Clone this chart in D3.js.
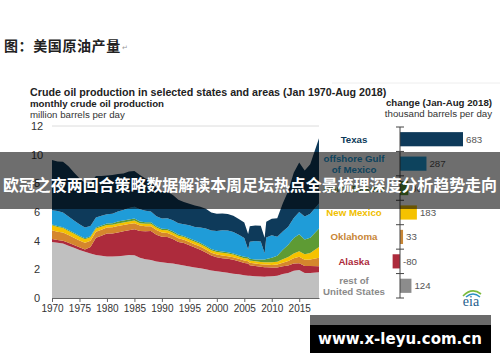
<!DOCTYPE html>
<html>
  <head>
    <meta charset="utf-8">
    <title>美国原油产量</title>
    <script src="https://d3js.org/d3.v7.min.js"></script>
    <style>
      body { margin: 0; background: #fff; }
      svg { display: block; font-family: "Liberation Sans", Arial, sans-serif; }
      .axis text { font-size: 10px; fill: #333; }
      .axis path, .axis line { stroke: #666; }
    </style>
  </head>
  <body>
    <script>
      var width = 500;
      var height = 362;

      // monthly production, million barrels per day
      var dates = [1970, 1971, 1972, 1973, 1974, 1975, 1976, 1977, 1978, 1979,
        1980, 1981, 1982, 1983, 1984, 1985, 1986, 1987, 1988, 1989,
        1990, 1991, 1992, 1993, 1994, 1995, 1996, 1997, 1998, 1999,
        2000, 2001, 2002, 2003, 2004, 2005, 2005.7, 2006, 2007, 2008, 2008.7,
        2009, 2010, 2011, 2012, 2013, 2014, 2015, 2016, 2017, 2018.6];
      var restOfUS = [3.90, 3.85, 3.80, 3.65, 3.50, 3.35, 3.22, 3.10, 3.00, 2.95,
        2.90, 2.90, 2.92, 2.95, 3.00, 2.98, 2.80, 2.70, 2.65, 2.55,
        2.50, 2.45, 2.40, 2.33, 2.27, 2.20, 2.13, 2.07, 2.00, 1.92,
        1.87, 1.82, 1.76, 1.70, 1.65, 1.58, 1.56, 1.55, 1.52, 1.50, 1.49,
        1.50, 1.52, 1.56, 1.68, 1.75, 1.90, 1.95, 1.75, 1.75, 1.80];
      var alaska = [0.22, 0.20, 0.20, 0.20, 0.19, 0.19, 0.17, 0.45, 1.20, 1.40,
        1.60, 1.60, 1.65, 1.70, 1.72, 1.82, 1.87, 1.96, 2.02, 1.87,
        1.77, 1.80, 1.71, 1.58, 1.56, 1.48, 1.39, 1.30, 1.17, 1.05,
        0.97, 0.96, 0.98, 0.97, 0.91, 0.86, 0.84, 0.74, 0.72, 0.68, 0.66,
        0.65, 0.60, 0.56, 0.53, 0.51, 0.50, 0.48, 0.49, 0.49, 0.42];
      var oklahoma = [0.60, 0.58, 0.57, 0.55, 0.52, 0.48, 0.46, 0.45, 0.43, 0.41,
        0.41, 0.43, 0.45, 0.44, 0.44, 0.42, 0.38, 0.35, 0.34, 0.32,
        0.30, 0.29, 0.27, 0.25, 0.24, 0.23, 0.22, 0.22, 0.21, 0.19,
        0.19, 0.19, 0.18, 0.18, 0.17, 0.17, 0.17, 0.17, 0.17, 0.18, 0.18,
        0.18, 0.19, 0.21, 0.25, 0.32, 0.37, 0.44, 0.42, 0.45, 0.58];
      var newMexico = [0.35, 0.33, 0.31, 0.28, 0.27, 0.26, 0.25, 0.24, 0.22, 0.21,
        0.19, 0.18, 0.18, 0.18, 0.18, 0.18, 0.17, 0.17, 0.17, 0.17,
        0.18, 0.18, 0.18, 0.18, 0.18, 0.18, 0.18, 0.18, 0.18, 0.17,
        0.18, 0.18, 0.18, 0.18, 0.17, 0.17, 0.17, 0.16, 0.16, 0.16, 0.16,
        0.17, 0.18, 0.20, 0.24, 0.28, 0.34, 0.40, 0.40, 0.45, 0.75];
      var northDakota = [0.06, 0.06, 0.06, 0.06, 0.07, 0.07, 0.07, 0.07, 0.07, 0.08,
        0.09, 0.11, 0.13, 0.13, 0.14, 0.14, 0.12, 0.11, 0.10, 0.10,
        0.09, 0.09, 0.09, 0.09, 0.08, 0.08, 0.09, 0.09, 0.09, 0.08,
        0.09, 0.09, 0.09, 0.08, 0.09, 0.10, 0.10, 0.11, 0.12, 0.17, 0.19,
        0.22, 0.31, 0.42, 0.66, 0.86, 1.08, 1.18, 1.03, 1.06, 1.30];
      var gulfOfMexico = [1.00, 1.05, 1.02, 0.95, 0.85, 0.80, 0.75, 0.72, 0.70, 0.68,
        0.66, 0.66, 0.70, 0.74, 0.80, 0.82, 0.85, 0.80, 0.76, 0.70,
        0.70, 0.76, 0.78, 0.78, 0.82, 0.90, 0.95, 1.05, 1.20, 1.30,
        1.38, 1.48, 1.52, 1.50, 1.42, 1.30, 0.55, 1.20, 1.28, 1.25, 0.45,
        1.50, 1.58, 1.32, 1.28, 1.25, 1.40, 1.55, 1.60, 1.68, 1.75];
      var texas = [3.50, 3.45, 3.55, 3.50, 3.35, 3.20, 3.10, 3.00, 2.90, 2.78,
        2.70, 2.70, 2.62, 2.55, 2.55, 2.50, 2.40, 2.25, 2.10, 1.95,
        1.85, 1.85, 1.75, 1.65, 1.55, 1.50, 1.50, 1.45, 1.38, 1.25,
        1.20, 1.17, 1.15, 1.13, 1.10, 1.08, 1.07, 1.08, 1.08, 1.10, 1.08,
        1.10, 1.15, 1.30, 1.95, 2.50, 3.15, 3.45, 3.20, 3.45, 4.55];

      var yTicks = [0, 2, 4, 6, 8, 10, 12];
      var xTicks = [1970, 1975, 1980, 1985, 1990, 1995, 2000, 2005, 2010, 2015];

      // change Jan-Aug 2018, thousand barrels per day
      var changeLabels = [["Texas"], ["offshore Gulf", "of Mexico"], ["North Dakota"],
        ["New Mexico"], ["Oklahoma"], ["Alaska"], ["rest of", "United States"]];
      var changeValues = [683, 287, 90, 183, 33, -80, 124];

      var keys = ["rest", "alaska", "oklahoma", "newMexico", "northDakota", "gulf", "texas"];
      var colors = {rest: "#c0c0c0", alaska: "#ad2b3c", oklahoma: "#d5862d", newMexico: "#f5c200",
        northDakota: "#5e9b34", gulf: "#1f9cd8", texas: "#0e3a5a"};
      var textColors = ["#0e3a5a", "#1f9cd8", "#5e9b34", "#f0c000", "#c88636", "#ad2b3c", "#8a8a8a"];
      var barColors = ["#0e3a5a", "#1f9cd8", "#5e9b34", "#f5c200", "#c88636", "#ad2b3c", "#8c8c8c"];

      var table = dates.map(function(d, i) {
        return {date: d, rest: restOfUS[i], alaska: alaska[i], oklahoma: oklahoma[i],
          newMexico: newMexico[i], northDakota: northDakota[i], gulf: gulfOfMexico[i], texas: texas[i]};
      });

      var svg = d3.select("body")
        .append("svg")
        .attr("width", width)
        .attr("height", height);

      // heading
      svg.append("text")
        .attr("x", 4).attr("y", 51)
        .style("font-family", "'Noto Sans CJK SC'")
        .style("font-size", "14px")
        .style("font-weight", "bold")
        .style("letter-spacing", "0.6px")
        .attr("fill", "#222")
        .text("图：美国原油产量");
      svg.append("text")
        .attr("x", 122).attr("y", 50)
        .style("font-size", "7px")
        .attr("fill", "#999")
        .text("↵");

      svg.append("text")
        .attr("x", 30).attr("y", 96)
        .style("font-size", "10.7px").style("font-weight", "bold")
        .attr("fill", "#222")
        .text("Crude oil production in selected states and areas (Jan 1970-Aug 2018)");
      svg.append("text")
        .attr("x", 30).attr("y", 107)
        .style("font-size", "9.7px").style("font-weight", "bold")
        .attr("fill", "#222")
        .text("monthly crude oil production");
      svg.append("text")
        .attr("x", 30).attr("y", 118)
        .style("font-size", "9.7px")
        .attr("fill", "#333")
        .text("million barrels per day");

      // left chart
      var xScale = d3.scaleLinear()
        .domain([1970, 2018.6])
        .range([52, 319]);
      var yScale = d3.scaleLinear()
        .domain([0, 12])
        .range([298, 126]);

      svg.append("line")
        .attr("x1", 52).attr("x2", 319)
        .attr("y1", yScale(12)).attr("y2", yScale(12))
        .attr("stroke", "#dcdcdc");

      var series = d3.stack().keys(keys)(table);
      var area = d3.area()
        .x(function(d) { return xScale(d.data.date); })
        .y0(function(d) { return yScale(d[0]); })
        .y1(function(d) { return yScale(d[1]); });

      svg.selectAll("path.layer")
        .data(series)
        .enter()
        .append("path")
          .attr("class", "layer")
          .attr("d", area)
          .attr("fill", function(d) { return colors[d.key]; });

      var xAxis = svg.append("g")
        .attr("class", "axis")
        .attr("transform", `translate(0,${yScale(0)})`)
        .call(d3.axisBottom(xScale).tickValues(xTicks).tickFormat(d3.format("d")).tickSize(4).tickSizeOuter(0));
      xAxis.selectAll("text").attr("y", 7);

      var yAxis = svg.append("g")
        .attr("class", "axis")
        .attr("transform", "translate(52,0)")
        .call(d3.axisLeft(yScale).tickValues(yTicks).tickSize(0));
      yAxis.select(".domain").remove();
      yAxis.selectAll("text")
        .attr("x", -15)
        .style("font-size", "11px")
        .style("text-anchor", "middle");

      // right chart
      svg.append("line")
        .attr("x1", 332).attr("x2", 500)
        .attr("y1", 83).attr("y2", 83)
        .attr("stroke", "#eeeeee");
      svg.append("text")
        .attr("x", 492).attr("y", 106)
        .attr("text-anchor", "end")
        .style("font-size", "9.7px").style("font-weight", "bold")
        .attr("fill", "#222")
        .text("change (Jan-Aug 2018)");
      svg.append("text")
        .attr("x", 492).attr("y", 117)
        .attr("text-anchor", "end")
        .style("font-size", "9.7px")
        .attr("fill", "#333")
        .text("thousand barrels per day");

      var rows = d3.range(changeValues.length);
      var yBand = d3.scaleBand()
        .domain(rows)
        .range([127, 298])
        .paddingInner(0.42)
        .paddingOuter(0.21);
      var xChange = d3.scaleLinear()
        .domain([0, 683])
        .range([400, 463]);

      svg.selectAll("rect.change")
        .data(rows)
        .enter()
        .append("rect")
          .attr("class", "change")
          .attr("x", function(i) { return xChange(Math.min(0, changeValues[i])); })
          .attr("y", function(i) { return yBand(i); })
          .attr("width", function(i) { return Math.abs(xChange(changeValues[i]) - xChange(0)); })
          .attr("height", yBand.bandwidth())
          .attr("fill", function(i) { return barColors[i]; });

      svg.selectAll("text.value")
        .data(rows)
        .enter()
        .append("text")
          .attr("class", "value")
          .attr("x", function(i) { return xChange(Math.max(0, changeValues[i])) + 3; })
          .attr("y", function(i) { return yBand(i) + yBand.bandwidth() / 2 + 3.5; })
          .style("font-size", "9.7px")
          .attr("fill", "#555")
          .text(function(i) { return changeValues[i]; });

      var labels = svg.selectAll("text.state")
        .data(rows)
        .enter()
        .append("text")
          .attr("class", "state")
          .attr("text-anchor", "middle")
          .style("font-size", "9.7px").style("font-weight", "bold")
          .attr("fill", function(i) { return textColors[i]; })
          .attr("transform", function(i) {
            var cy = yBand(i) + yBand.bandwidth() / 2 + 3.5 - (changeLabels[i].length - 1) * 5.5;
            return `translate(354,${cy})`;
          });
      labels.selectAll("tspan")
        .data(function(i) { return changeLabels[i]; })
        .enter()
        .append("tspan")
          .attr("x", 0)
          .attr("dy", function(d, j) { return j ? 11 : 0; })
          .text(function(d) { return d; });

      var step = yBand.step();
      svg.append("line")
        .attr("x1", xChange(0)).attr("x2", xChange(0))
        .attr("y1", 127).attr("y2", 298)
        .attr("stroke", "#444");
      svg.selectAll("line.tick")
        .data(d3.range(changeValues.length + 1))
        .enter()
        .append("line")
          .attr("class", "tick")
          .attr("x1", xChange(0) - 4).attr("x2", xChange(0) + 4)
          .attr("y1", function(i) { return 127 + i * step; })
          .attr("y2", function(i) { return 127 + i * step; })
          .attr("stroke", "#444");

      // eia logo
      svg.append("path")
        .attr("d", "M463,296 Q472,287 481,294")
        .attr("fill", "none").attr("stroke", "#7dbb3c").attr("stroke-width", 1.6);
      svg.append("path")
        .attr("d", "M466,297 Q473,291 480,297")
        .attr("fill", "none").attr("stroke", "#2a8fc2").attr("stroke-width", 1.4);
      svg.append("text")
        .attr("x", 471).attr("y", 306)
        .attr("text-anchor", "middle")
        .style("font-family", "'Liberation Serif', serif")
        .style("font-size", "14px")
        .attr("fill", "#1d5e8c")
        .text("eia");

      // overlays
      svg.append("rect")
        .attr("x", 0).attr("y", 152)
        .attr("width", width).attr("height", 57)
        .attr("fill", "#000").attr("fill-opacity", 0.57);
      svg.append("text")
        .attr("x", 3).attr("y", 191)
        .attr("textLength", 494)
        .attr("lengthAdjust", "spacingAndGlyphs")
        .style("font-family", "'Noto Sans CJK SC'")
        .style("font-size", "16px").style("font-weight", "bold")
        .attr("fill", "#fff")
        .text("欧冠之夜两回合策略数据解读本周足坛热点全景梳理深度分析趋势走向");

      svg.append("rect")
        .attr("x", 310).attr("y", 315)
        .attr("width", 181).attr("height", 10)
        .attr("fill", "#6a6a6a");
      svg.append("rect")
        .attr("x", 310).attr("y", 325)
        .attr("width", 181).attr("height", 28)
        .attr("fill", "#000");
      svg.append("text")
        .attr("x", 400).attr("y", 344)
        .attr("text-anchor", "middle")
        .style("font-family", "'DejaVu Sans'")
        .style("font-size", "15px").style("font-weight", "bold")
        .attr("fill", "#fff")
        .text("www.x-leyu.com.cn");
    </script>
  </body>
</html>
